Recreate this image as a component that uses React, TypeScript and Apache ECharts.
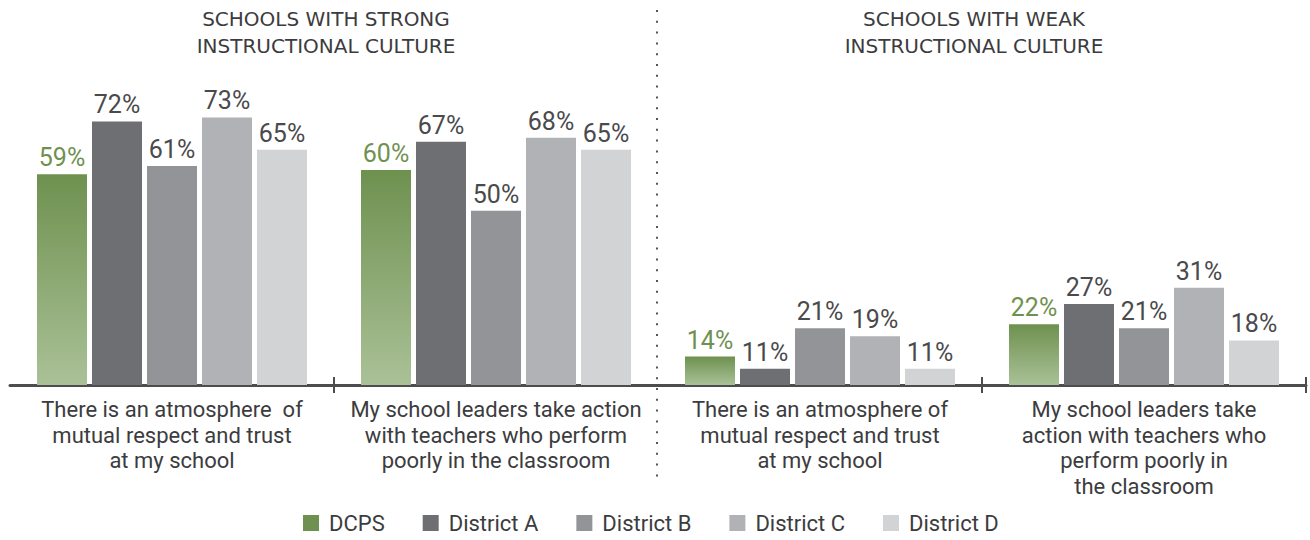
import React, { useEffect, useRef } from "react";
import * as echarts from "echarts";

const categories = [
  "There is an atmosphere  of\nmutual respect and trust\nat my school",
  "My school leaders take action\nwith teachers who perform\npoorly in the classroom",
  "There is an atmosphere of\nmutual respect and trust\nat my school",
  "My school leaders take\naction with teachers who\nperform poorly in\nthe classroom",
];
const seriesNames = ["DCPS", "District A", "District B", "District C", "District D"];
const dcps = [59, 60, 14, 22];
const districtA = [72, 67, 11, 27];
const districtB = [61, 50, 21, 21];
const districtC = [73, 68, 19, 31];
const districtD = [65, 65, 11, 18];
const groupTitles = ["SCHOOLS WITH STRONG\nINSTRUCTIONAL CULTURE", "SCHOOLS WITH WEAK\nINSTRUCTIONAL CULTURE"];

const FONT = "Roboto, 'Noto Sans', sans-serif";
const TEXT = "#3c3c3e";

export default function App() {
  const ref = useRef<HTMLDivElement>(null);
  useEffect(() => {
    document.body.style.margin = "0";
    const chart = echarts.init(ref.current!, null, { renderer: "svg" });
    const green = new echarts.graphic.LinearGradient(0, 0, 0, 1, [
      { offset: 0, color: "#6e914f" },
      { offset: 1, color: "#aac197" },
    ]);
    const colors = ["#6f9150", "#6e6f73", "#939498", "#b1b2b6", "#d2d3d5"];
    const values = [dcps, districtA, districtB, districtC, districtD];
    const series = seriesNames.map((name, i) => ({
      name,
      type: "bar",
      data: values[i],
      barWidth: 50,
      barGap: "10%",
      itemStyle: { color: i === 0 ? green : colors[i] },
      label: {
        show: true,
        position: "top",
        distance: 4,
        formatter: "{c}%",
        fontFamily: FONT,
        fontSize: 25,
        color: i === 0 ? "#6f9150" : "#4a4a4c",
      },
    }));
    const tickInterval = (idx: number) => idx === 1 || idx === 3;
    chart.setOption({
      animation: false,
      grid: { left: 10, right: 4, top: 89, bottom: 155, containLabel: false },
      xAxis: [
        {
          type: "category",
          data: categories,
          axisLine: { show: true, lineStyle: { color: "#4d4d4f", width: 3 } },
          axisTick: {
            show: true,
            length: 8,
            interval: tickInterval,
            lineStyle: { color: "#4d4d4f", width: 2 },
          },
          axisLabel: {
            interval: 0,
            margin: 12,
            fontFamily: FONT,
            fontSize: 22,
            lineHeight: 25.5,
            color: TEXT,
          },
        },
        {
          type: "category",
          data: categories,
          position: "bottom",
          offset: 0,
          axisLine: { show: false },
          axisTick: {
            show: true,
            inside: true,
            length: 8,
            interval: tickInterval,
            lineStyle: { color: "#4d4d4f", width: 2 },
          },
          axisLabel: { show: false },
        },
      ],
      yAxis: {
        type: "value",
        min: 7,
        max: 80,
        show: false,
        splitLine: { show: false },
      },
      legend: {
        left: 303,
        top: 512,
        padding: 0,
        itemWidth: 16,
        itemHeight: 16,
        itemGap: 38,
        icon: "rect",
        textStyle: { fontFamily: FONT, fontSize: 22, color: TEXT, padding: [0, 0, 0, 5] },
        data: seriesNames.map((n, i) => ({ name: n, itemStyle: { color: colors[i] } })),
      },
      graphic: [
        {
          type: "line",
          shape: { x1: 657, y1: 10, x2: 657, y2: 482 },
          style: { stroke: "#555", lineWidth: 2, lineDash: [2, 8.8] },
        },
        {
          type: "text",
          x: 326,
          y: 5,
          style: {
            text: groupTitles[0],
            textAlign: "center",
            fontFamily: "'DejaVu Sans', sans-serif",
            fontSize: 20,
            lineHeight: 27,
            fill: TEXT,
          },
        },
        {
          type: "text",
          x: 974,
          y: 5,
          style: {
            text: groupTitles[1],
            textAlign: "center",
            fontFamily: "'DejaVu Sans', sans-serif",
            fontSize: 20,
            lineHeight: 27,
            fill: TEXT,
          },
        },
      ],
      series,
    });
    return () => chart.dispose();
  }, []);
  return <div ref={ref} style={{ width: 1310, height: 540 }} />;
}
